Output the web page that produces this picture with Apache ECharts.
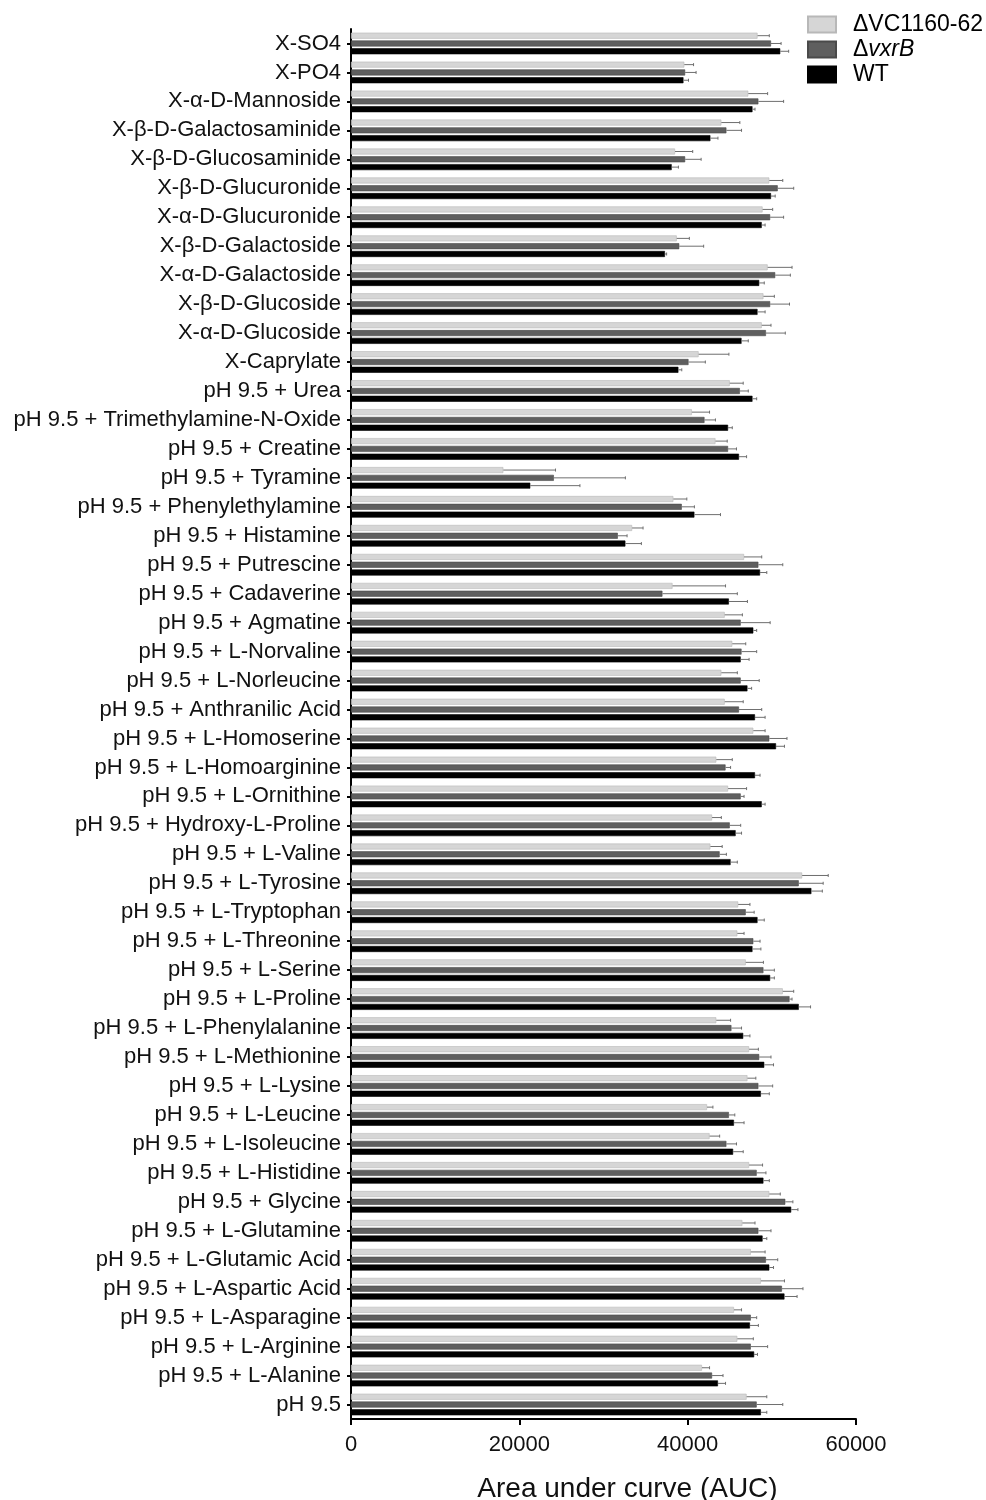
<!DOCTYPE html>
<html>
<head>
<meta charset="utf-8">
<script src="https://cdn.jsdelivr.net/npm/echarts@6/dist/echarts.min.js"></script>
<style>
  html, body { margin: 0; padding: 0; background: #fff; }
  #chart { width: 986px; height: 1500px; }
</style>
</head>
<body>
<div id="chart"></div>
<script>
// Conditions, listed top to bottom
const categories = [
  'X-SO4', 'X-PO4', 'X-α-D-Mannoside', 'X-β-D-Galactosaminide', 'X-β-D-Glucosaminide',
  'X-β-D-Glucuronide', 'X-α-D-Glucuronide', 'X-β-D-Galactoside', 'X-α-D-Galactoside',
  'X-β-D-Glucoside', 'X-α-D-Glucoside', 'X-Caprylate', 'pH 9.5 + Urea',
  'pH 9.5 + Trimethylamine-N-Oxide', 'pH 9.5 + Creatine', 'pH 9.5 + Tyramine',
  'pH 9.5 + Phenylethylamine', 'pH 9.5 + Histamine', 'pH 9.5 + Putrescine',
  'pH 9.5 + Cadaverine', 'pH 9.5 + Agmatine', 'pH 9.5 + L-Norvaline', 'pH 9.5 + L-Norleucine',
  'pH 9.5 + Anthranilic Acid', 'pH 9.5 + L-Homoserine', 'pH 9.5 + L-Homoarginine',
  'pH 9.5 + L-Ornithine', 'pH 9.5 + Hydroxy-L-Proline', 'pH 9.5 + L-Valine',
  'pH 9.5 + L-Tyrosine', 'pH 9.5 + L-Tryptophan', 'pH 9.5 + L-Threonine', 'pH 9.5 + L-Serine',
  'pH 9.5 + L-Proline', 'pH 9.5 + L-Phenylalanine', 'pH 9.5 + L-Methionine',
  'pH 9.5 + L-Lysine', 'pH 9.5 + L-Leucine', 'pH 9.5 + L-Isoleucine', 'pH 9.5 + L-Histidine',
  'pH 9.5 + Glycine', 'pH 9.5 + L-Glutamine', 'pH 9.5 + L-Glutamic Acid',
  'pH 9.5 + L-Aspartic Acid', 'pH 9.5 + L-Asparagine', 'pH 9.5 + L-Arginine',
  'pH 9.5 + L-Alanine', 'pH 9.5'
];

// ΔVC1160-62 — mean AUC and error
const vcMean = [48300, 39600, 47200, 44000, 38500, 49700, 48900, 38700, 49500, 49000, 48800, 41300,
  45000, 40500, 43300, 18100, 38300, 33400, 46700, 38200, 44400, 45300, 44000, 44400, 47800, 43400,
  44800, 42900, 42700, 53600, 46000, 45900, 46900, 51300, 43400, 47300, 47100, 42300, 42600, 47300,
  49700, 46500, 47500, 48700, 45500, 45900, 41700, 47000];
const vcErr = [1400, 1100, 2300, 2200, 2100, 1600, 1200, 1500, 2900, 1300, 1100, 3600,
  1600, 2100, 1400, 6200, 1600, 1300, 2100, 6300, 2100, 1600, 1900, 2200, 1400, 1900,
  2200, 1100, 1400, 3100, 1400, 800, 2100, 1300, 1700, 1100, 1000, 700, 1200, 1600,
  1300, 1500, 1700, 2800, 900, 1900, 900, 2400];

// ΔvxrB — mean AUC and error
const vxrMean = [49900, 39700, 48400, 44600, 39700, 50700, 49800, 39000, 50400, 49800, 49300, 40100,
  46200, 42000, 44800, 24100, 39300, 31700, 48400, 37000, 46300, 46400, 46300, 46100, 49700, 44500,
  46300, 45000, 43800, 53200, 46900, 47800, 49000, 52100, 45200, 48500, 48400, 44900, 44600, 48200,
  51600, 48400, 49300, 51200, 47500, 47500, 42900, 48200];
const vxrErr = [1200, 1300, 3000, 1800, 1900, 1900, 1600, 2900, 1800, 2300, 2300, 2000,
  1000, 1300, 1000, 8500, 1500, 1100, 2900, 8900, 3500, 1800, 2200, 2700, 2100, 600,
  400, 1300, 800, 2900, 1000, 800, 1300, 300, 1200, 1400, 1700, 700, 1200, 1100,
  900, 1500, 1400, 2500, 700, 2000, 1300, 3100];

// WT — mean AUC and error
const wtMean = [51000, 39500, 47700, 42700, 38100, 49900, 48800, 37300, 48500, 48300, 46400, 38900,
  47700, 44800, 46100, 21300, 40800, 32600, 48600, 44900, 47800, 46300, 47100, 48000, 50500, 48000,
  48800, 45700, 45100, 54700, 48300, 47700, 49800, 53200, 46600, 49100, 48700, 45500, 45400, 49000,
  52300, 48900, 49700, 51500, 47400, 47900, 43600, 48700];
const wtErr = [1000, 600, 300, 900, 800, 500, 400, 200, 600, 900, 800, 400,
  500, 500, 900, 5900, 3100, 1900, 800, 2200, 400, 1000, 500, 1200, 1000, 600,
  400, 700, 800, 1300, 800, 1000, 500, 1400, 800, 1100, 1000, 1200, 1200, 700,
  800, 500, 500, 1500, 1000, 400, 900, 700];

const xTicks = [0, 20000, 40000, 60000];

const groups = [
  { name: 'ΔVC1160-62', mean: vcMean, err: vcErr, color: '#d6d6d6', border: '#b8b8b8' },
  { name: 'ΔvxrB', mean: vxrMean, err: vxrErr, color: '#5f5f5f', border: '#4a4a4a' },
  { name: 'WT', mean: wtMean, err: wtErr, color: '#000000', border: '#000000' }
];

const FONT = 'Liberation Sans, Arial, sans-serif';
const BAR_W = 6;
const BAR_GAP = 0.3; // fraction of bar width
const pitch = BAR_W * (1 + BAR_GAP);

const series = [];
groups.forEach(function (g) {
  series.push({
    name: g.name,
    type: 'bar',
    barWidth: BAR_W,
    barGap: (BAR_GAP * 100) + '%',
    itemStyle: { color: g.color, borderColor: g.border, borderWidth: 0.6 },
    data: g.mean,
    z: 2
  });
});
// one-sided error bars with an end cap, placed on each bar's centre line
groups.forEach(function (g, k) {
  const offset = (k - (groups.length - 1) / 2) * pitch;
  series.push({
    name: g.name + ' err',
    type: 'custom',
    z: 3,
    encode: { x: 0, y: 1 },
    data: g.mean.map(function (m, i) { return [m, i, g.err[i]]; }),
    renderItem: function (params, api) {
      const m = api.value(0), idx = api.value(1), e = api.value(2);
      const p0 = api.coord([m, idx]);
      const p1 = api.coord([m + e, idx]);
      const y = p0[1] + offset;
      const style = { stroke: '#6e6e6e', lineWidth: 1 };
      return {
        type: 'group',
        children: [
          { type: 'line', shape: { x1: p0[0], y1: y, x2: p1[0], y2: y }, style: style },
          { type: 'line', shape: { x1: p1[0], y1: y - 1.5, x2: p1[0], y2: y + 1.5 }, style: style }
        ]
      };
    }
  });
});

const chart = echarts.init(document.getElementById('chart'));
chart.setOption({
  backgroundColor: '#fff',
  animation: false,
  textStyle: { fontFamily: FONT },
  grid: { left: 351, right: 130, top: 29, height: 1390, containLabel: false, outerBoundsMode: 'none' },
  legend: {
    data: groups.map(function (g) { return g.name; }),
    orient: 'vertical',
    left: 807,
    top: 13,
    padding: 0,
    itemWidth: 28,
    itemHeight: 16,
    itemGap: 2,
    icon: 'rect',
    textStyle: {
      fontSize: 23, color: '#000', fontFamily: FONT,
      padding: [0, 0, 0, 12],
      rich: {
        n: { fontSize: 23, color: '#000' },
        i: { fontSize: 23, color: '#000', fontStyle: 'italic' }
      }
    },
    formatter: function (name) {
      if (name === 'ΔvxrB') return '{n|Δ}{i|vxrB}';
      return name;
    }
  },
  xAxis: {
    type: 'value',
    min: xTicks[0],
    max: xTicks[xTicks.length - 1],
    interval: xTicks[1] - xTicks[0],
    splitLine: { show: false },
    axisLine: { show: true, lineStyle: { color: '#000', width: 2 } },
    axisTick: { show: true, length: 6, lineStyle: { color: '#000', width: 2 } },
    axisLabel: { fontSize: 22, color: '#111', margin: 15, formatter: function (v) { return String(v); } },
    name: 'Area under curve (AUC)',
    nameLocation: 'middle',
    nameGap: 56,
    nameTextStyle: { fontSize: 28, color: '#111', padding: [0, 0, 0, 48] }
  },
  yAxis: {
    type: 'category',
    data: categories,
    inverse: true,
    axisLine: { show: true, lineStyle: { color: '#000', width: 2 } },
    axisTick: { show: true, alignWithLabel: true, length: 4, lineStyle: { color: '#000', width: 2 } },
    axisLabel: { fontSize: 22, color: '#111', margin: 10, padding: [3, 0, 0, 0] }
  },
  series: series
});
</script>
</body>
</html>
